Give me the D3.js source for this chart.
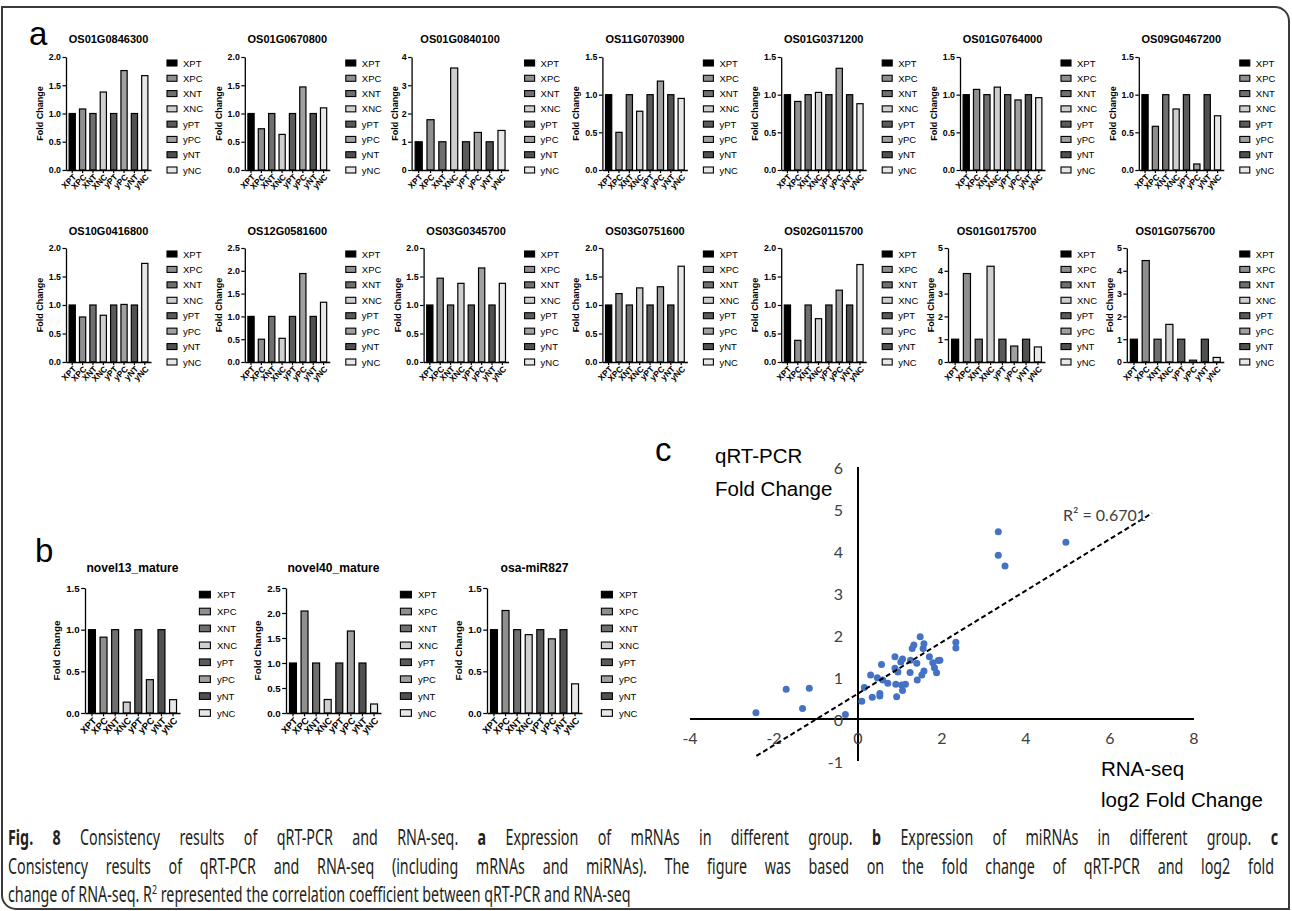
<!DOCTYPE html>
<html>
<head>
<meta charset="utf-8">
<script src="https://cdn.jsdelivr.net/npm/d3@7"></script>
<style>
  body { margin: 0; background: #fff; }
  svg { display: block; }
</style>
</head>
<body>
<div id="fig"></div>
<script>
// ---- data ----
var groups = ['XPT', 'XPC', 'XNT', 'XNC', 'yPT', 'yPC', 'yNT', 'yNC'];
var groupFill = ['#000000', '#8f8f8f', '#6f6f6f', '#cfcfcf', '#5a5a5a', '#a0a0a0', '#505050', '#e8e8e8'];

var mrnaGenes = [
  'OS01G0846300', 'OS01G0670800', 'OS01G0840100', 'OS11G0703900', 'OS01G0371200', 'OS01G0764000', 'OS09G0467200',
  'OS10G0416800', 'OS12G0581600', 'OS03G0345700', 'OS03G0751600', 'OS02G0115700', 'OS01G0175700', 'OS01G0756700'
];
var mrnaFold = [
  [1.0, 1.08, 1.0, 1.38, 1.0, 1.76, 1.0, 1.67],
  [1.0, 0.73, 1.0, 0.63, 1.0, 1.47, 1.0, 1.10],
  [1.0, 1.78, 1.0, 3.61, 1.0, 1.33, 1.0, 1.40],
  [1.0, 0.50, 1.0, 0.78, 1.0, 1.18, 1.0, 0.95],
  [1.0, 0.91, 1.0, 1.03, 1.0, 1.35, 1.0, 0.88],
  [1.0, 1.07, 1.0, 1.10, 1.0, 0.93, 1.0, 0.96],
  [1.0, 0.58, 1.0, 0.81, 1.0, 0.08, 1.0, 0.72],
  [1.0, 0.79, 1.0, 0.82, 1.0, 1.01, 1.0, 1.73],
  [1.0, 0.50, 1.0, 0.52, 1.0, 1.94, 1.0, 1.31],
  [1.0, 1.47, 1.0, 1.38, 1.0, 1.65, 1.0, 1.38],
  [1.0, 1.20, 1.0, 1.30, 1.0, 1.32, 1.0, 1.68],
  [1.0, 0.38, 1.0, 0.76, 1.0, 1.26, 1.0, 1.71],
  [1.0, 3.88, 1.0, 4.20, 1.0, 0.70, 1.0, 0.66],
  [1.0, 4.45, 1.0, 1.65, 1.0, 0.08, 1.0, 0.20]
];
var mrnaAxisMax = [2, 2, 4, 1.5, 1.5, 1.5, 1.5, 2, 2.5, 2, 2, 2, 5, 5];

var mirnaNames = ['novel13_mature', 'novel40_mature', 'osa-miR827'];
var mirnaFold = [
  [1.0, 0.91, 1.0, 0.13, 1.0, 0.40, 1.0, 0.16],
  [1.0, 2.04, 1.0, 0.27, 1.0, 1.64, 1.0, 0.18],
  [1.0, 1.23, 1.0, 0.94, 1.0, 0.89, 1.0, 0.35]
];
var mirnaAxisMax = [1.5, 2.5, 1.5];

var rnaSeqLog2 = [-2.43, -1.71, -1.16, -1.32, -0.30, 0.09, 0.15, 0.30, 0.34, 0.46, 0.52, 0.52, 0.56, 0.59, 0.71,
  0.88, 0.88, 0.90, 0.92, 0.95, 1.02, 1.06, 1.04, 1.06, 1.13, 1.24, 1.29, 1.33, 1.25, 1.40, 1.41, 1.48, 1.52,
  1.55, 1.57, 1.57, 1.70, 1.78, 1.82, 1.87, 1.91, 1.95, 2.33, 2.33, 3.34, 3.34, 3.50, 4.95];
var qpcrFold = [0.15, 0.71, 0.73, 0.25, 0.11, 0.42, 0.75, 1.05, 0.52, 0.98, 0.55, 0.61, 1.30, 0.93, 0.85,
  1.48, 1.21, 0.83, 0.53, 1.12, 1.36, 1.43, 0.81, 0.68, 0.83, 1.11, 1.68, 1.76, 1.40, 1.33, 0.93, 1.96, 1.05,
  1.68, 1.79, 1.14, 1.48, 1.34, 1.22, 1.10, 1.39, 1.40, 1.83, 1.69, 4.46, 3.90, 3.64, 4.21];
var trendX = [-2.42, 7.0];
var trendY = [-0.88, 4.90];
var r2Label = 'R² = 0.6701';
var scatterXTicks = [-4, -2, 0, 2, 4, 6, 8];
var scatterYTicks = [-1, 0, 1, 2, 3, 4, 5, 6];

// ---- page ----
var W = 1292, H = 911;
var arial = '"Liberation Sans", Arial, Helvetica, sans-serif';
var svg = d3.select('#fig').append('svg').attr('width', W).attr('height', H);

// frame round figure + caption
svg.append('path')
  .attr('d', 'M2,7 H1275 A14,14 0 0 1 1289,21 V909 H16 A14,14 0 0 1 2,895 Z')
  .attr('fill', 'none')
  .attr('stroke', '#3a3a3a')
  .attr('stroke-width', 2);

function barChart(name, vals, ymax, g) {
  var k = g.k;
  var step = ymax >= 4 ? 1 : 0.5;
  // integer tick labels are narrower, so the plot reaches further left
  var axisX = g.lx - g.axisOff - (step === 1 ? 12 * k : 0), right = g.lx - g.rightOff;
  var x = d3.scaleBand().domain(groups).range([axisX, right]).paddingInner(0.4).paddingOuter(0.3);
  var y = d3.scaleLinear().domain([0, ymax]).range([g.bottom, g.top]);
  var ticks = d3.range(0, ymax + 0.001, step);

  var chart = svg.append('g').attr('class', 'bar-chart');

  chart.selectAll('rect.bar').data(vals).enter()
    .append('rect')
    .attr('class', 'bar')
    .attr('x', function(d, i) { return x(groups[i]); })
    .attr('y', function(d) { return y(d); })
    .attr('width', x.bandwidth())
    .attr('height', function(d) { return y(0) - y(d); })
    .attr('fill', function(d, i) { return groupFill[i]; })
    .attr('stroke', '#000')
    .attr('stroke-width', 1.2);

  var yaxis = chart.append('g')
    .attr('transform', 'translate(' + axisX + ',0)')
    .call(d3.axisLeft(y).tickValues(ticks)
      .tickFormat(step === 1 ? d3.format('d') : d3.format('.1f'))
      .tickSize(3.5 * k).tickSizeOuter(0).tickPadding(1.5));
  yaxis.attr('font-family', arial).attr('font-size', 8.8 * k).attr('font-weight', 'bold');
  yaxis.select('.domain').attr('stroke-width', 1.3);
  yaxis.selectAll('.tick line').attr('stroke-width', 1.2);

  var xaxis = chart.append('g')
    .attr('transform', 'translate(0,' + g.bottom + ')')
    .call(d3.axisBottom(x).tickSize(3 * k).tickSizeOuter(0));
  xaxis.attr('font-family', arial).attr('font-size', 8.5 * k).attr('font-weight', 'bold');
  xaxis.select('.domain').attr('stroke-width', 1.3);
  xaxis.selectAll('.tick line').attr('stroke-width', 1.2);
  xaxis.selectAll('text')
    .attr('x', 0).attr('y', 0).attr('dy', 0)
    .attr('transform', 'translate(' + (3 * k) + ',' + (6 * k) + ') rotate(-45)')
    .attr('text-anchor', 'end')
    .attr('dominant-baseline', 'middle');

  chart.append('text')
    .attr('x', (axisX + right) / 2)
    .attr('y', g.titleY)
    .attr('text-anchor', 'middle')
    .attr('font-family', arial)
    .attr('font-weight', 'bold')
    .attr('font-size', 11 * k)
    .text(name);

  chart.append('text')
    .attr('transform', 'translate(' + (axisX - (step === 1 ? 14 : 23) * k) + ',' + ((g.top + g.bottom) / 2) + ') rotate(-90)')
    .attr('text-anchor', 'middle')
    .attr('font-family', arial)
    .attr('font-weight', 'bold')
    .attr('font-size', 9 * k)
    .text('Fold Change');

  var rowStep = (g.bottom - g.top - 6 * k) / 7;
  var legend = chart.append('g');
  legend.selectAll('rect').data(groups).enter()
    .append('rect')
    .attr('x', g.lx - 16 * k)
    .attr('y', function(d, i) { return g.top + 6 * k + i * rowStep - 3 * k; })
    .attr('width', 10 * k)
    .attr('height', 6 * k)
    .attr('fill', function(d, i) { return groupFill[i]; })
    .attr('stroke', '#000')
    .attr('stroke-width', 1.1);
  legend.selectAll('text').data(groups).enter()
    .append('text')
    .attr('x', g.lx)
    .attr('y', function(d, i) { return g.top + 6 * k + i * rowStep; })
    .attr('dominant-baseline', 'central')
    .attr('font-family', arial)
    .attr('font-size', 9.5)
    .text(function(d) { return d; });
}

// panel labels
[['a', 29, 45], ['b', 35, 562], ['c', 655, 461]].forEach(function(p) {
  svg.append('text').attr('x', p[1]).attr('y', p[2])
    .attr('font-family', arial).attr('font-size', 33).text(p[0]);
});

// panel a: two rows of seven genes
var rowsA = [
  { top: 57, bottom: 170, titleY: 43 },
  { top: 248, bottom: 362, titleY: 235 }
];
mrnaGenes.forEach(function(gene, i) {
  var row = rowsA[Math.floor(i / 7)];
  var col = i % 7;
  barChart(gene, mrnaFold[i], mrnaAxisMax[i], {
    lx: 183 + 178.8 * col, top: row.top, bottom: row.bottom, titleY: row.titleY,
    axisOff: 117, rightOff: 32, k: 1
  });
});

// panel b: miRNAs
mirnaNames.forEach(function(nm, i) {
  barChart(nm, mirnaFold[i], mirnaAxisMax[i], {
    lx: 217 + 201 * i, top: 588, bottom: 713, titleY: 572,
    axisOff: 132, rightOff: 37, k: 1.1
  });
});

// panel c: scatter
var sx = d3.scaleLinear().domain([-4, 8]).range([690, 1194]);
var sy = d3.scaleLinear().domain([-1, 6]).range([761, 467]);
var sc = svg.append('g').attr('id', 'scatter');
var tickFont = 'Lato, "Open Sans", sans-serif';

sc.append('line')
  .attr('x1', sx(-4)).attr('x2', sx(8)).attr('y1', sy(0)).attr('y2', sy(0))
  .attr('stroke', '#000').attr('stroke-width', 2);
sc.append('line')
  .attr('x1', sx(0)).attr('x2', sx(0)).attr('y1', sy(-1)).attr('y2', sy(6))
  .attr('stroke', '#000').attr('stroke-width', 2);

sc.selectAll('text.xt').data(scatterXTicks).enter()
  .append('text').attr('class', 'xt')
  .attr('x', function(d) { return sx(d); })
  .attr('y', sy(0) + 25)
  .attr('text-anchor', 'middle')
  .attr('font-family', tickFont)
  .attr('font-size', 16)
  .attr('fill', '#404040')
  .text(function(d) { return d; });
sc.selectAll('text.yt').data(scatterYTicks).enter()
  .append('text').attr('class', 'yt')
  .attr('x', sx(0) - 15)
  .attr('y', function(d) { return sy(d); })
  .attr('text-anchor', 'end')
  .attr('dominant-baseline', 'central')
  .attr('font-family', tickFont)
  .attr('font-size', 16)
  .attr('fill', '#404040')
  .text(function(d) { return d; });

sc.selectAll('circle').data(rnaSeqLog2).enter()
  .append('circle')
  .attr('cx', function(d) { return sx(d); })
  .attr('cy', function(d, i) { return sy(qpcrFold[i]); })
  .attr('r', 3.5)
  .attr('fill', '#4472c4');

sc.append('line')
  .attr('x1', sx(trendX[0])).attr('y1', sy(trendY[0]))
  .attr('x2', sx(trendX[1])).attr('y2', sy(trendY[1]))
  .attr('stroke', '#000').attr('stroke-width', 2)
  .attr('stroke-dasharray', '5,3');

sc.append('text')
  .attr('x', 1063).attr('y', 521)
  .attr('font-family', tickFont)
  .attr('font-size', 16)
  .attr('fill', '#404040')
  .text(r2Label);

[['qRT-PCR', 715, 463], ['Fold Change', 715, 496], ['RNA-seq', 1101, 776], ['log2 Fold Change', 1101, 807]].forEach(function(t) {
  sc.append('text').attr('x', t[1]).attr('y', t[2])
    .attr('font-family', arial).attr('font-size', 20.5)
    .text(t[0]);
});

// caption: condensed, justified text; last line at natural width
var capFont = '"Noto Sans", "Open Sans", sans-serif';
function captionLine(y) {
  var g = svg.append('g').attr('transform', 'translate(8,' + y + ')');
  return g.append('text')
    .attr('font-family', capFont)
    .attr('font-size', 21)
    .attr('fill', '#231f20');
}
var line1 = captionLine(845);
line1.append('tspan').attr('font-weight', 'bold').text('Fig. 8');
line1.append('tspan').text(' Consistency results of qRT-PCR and RNA-seq. ');
line1.append('tspan').attr('font-weight', 'bold').text('a');
line1.append('tspan').text(' Expression of mRNAs in different group. ');
line1.append('tspan').attr('font-weight', 'bold').text('b');
line1.append('tspan').text(' Expression of miRNAs in different group. ');
line1.append('tspan').attr('font-weight', 'bold').text('c');

var line2 = captionLine(874);
line2.text('Consistency results of qRT-PCR and RNA-seq (including mRNAs and miRNAs). The figure was based on the fold change of qRT-PCR and log2 fold');

var line3 = captionLine(902);
line3.append('tspan').text('change of RNA-seq. R');
line3.append('tspan').attr('font-size', 13).attr('dy', -8).text('2');
line3.append('tspan').attr('dy', 8).text(' represented the correlation coefficient between qRT-PCR and RNA-seq');

var squeeze = 623 / line3.node().getComputedTextLength();
[[line1, 1270], [line2, 1266], [line3, null]].forEach(function(c) {
  var t = c[0];
  d3.select(t.node().parentNode).attr('transform', function() {
    return d3.select(this).attr('transform') + ' scale(' + squeeze + ',1)';
  });
  if (c[1]) {
    var spaces = t.text().split(' ').length - 1;
    var extra = (c[1] / squeeze - t.node().getComputedTextLength()) / spaces;
    t.attr('word-spacing', extra);
  }
});
</script>
</body>
</html>
